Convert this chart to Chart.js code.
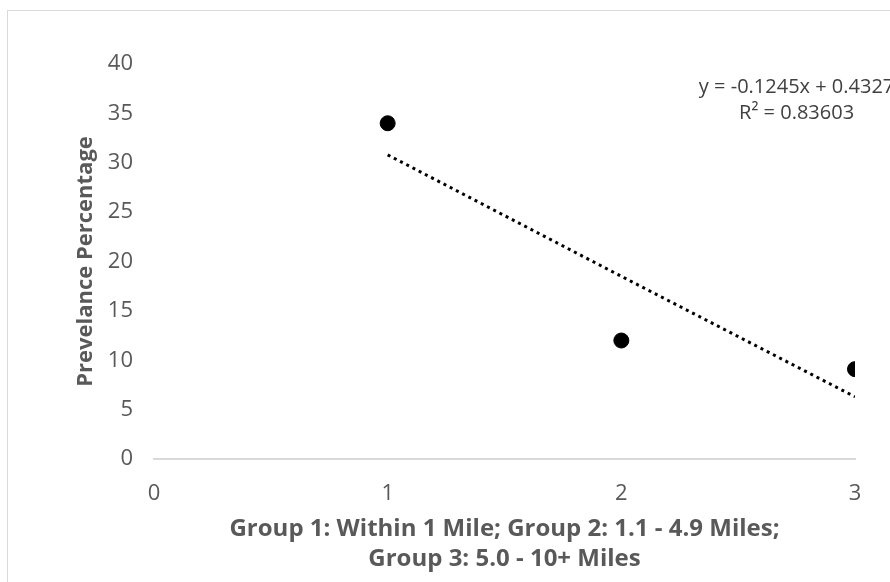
<!DOCTYPE html>
<html>
<head>
<meta charset="utf-8">
<script src="https://cdn.jsdelivr.net/npm/chart.js@4"></script>
<style>
  html, body { margin: 0; padding: 0; background: #fff; }
  canvas { display: block; }
</style>
</head>
<body>
<canvas id="chart" width="890" height="582"></canvas>
<script>
// ── Prevalence by distance group: scatter + linear trendline ──
const groups = [1, 2, 3];
const prevalence = [34, 12, 9.1];

// trendline (x = 1 … 3)
const trendX = [1, 2, 3];
const trendY = [30.8, 18.5, 6.3];

const xTicks = [0, 1, 2, 3];
const yTicks = [0, 5, 10, 15, 20, 25, 30, 35, 40];

const eqLines = ['y = -0.1245x + 0.4327', 'R² = 0.83603'];

const grey = '#595959';
const font = '"Open Sans", "DejaVu Sans", sans-serif';

// outer frame + trendline equation
const framePlugin = {
  id: 'frame',
  beforeDraw(chart) {
    const { ctx } = chart;
    ctx.save();
    ctx.strokeStyle = '#d9d9d9';
    ctx.lineWidth = 1;
    ctx.strokeRect(7.5, 10.5, 1000, 1000);
    ctx.restore();
  },
  afterDatasetsDraw(chart) {
    const { ctx, scales: { x, y } } = chart;
    const cx = x.getPixelForValue(2.75);
    ctx.save();
    ctx.font = '20px ' + font;
    ctx.fillStyle = '#404040';
    ctx.textAlign = 'center';
    ctx.textBaseline = 'middle';
    ctx.fillText(eqLines[0], cx, y.getPixelForValue(37.6));
    ctx.fillText(eqLines[1], cx, y.getPixelForValue(35.05));
    ctx.restore();
  }
};

new Chart(document.getElementById('chart'), {
  type: 'scatter',
  data: {
    datasets: [
      {
        label: 'Prevalence',
        data: groups.map((g, i) => ({ x: g, y: prevalence[i] })),
        backgroundColor: '#000',
        borderColor: '#000',
        pointRadius: 7.5,
        pointHoverRadius: 7.5
      },
      {
        label: 'Linear trend',
        type: 'line',
        data: trendX.map((g, i) => ({ x: g, y: trendY[i] })),
        borderColor: '#000',
        borderWidth: 3,
        borderDash: [3, 4],
        pointRadius: 0,
        fill: false
      }
    ]
  },
  options: {
    responsive: false,
    animation: false,
    layout: { padding: { left: 0, top: 64, right: 35, bottom: 0 } },
    plugins: { legend: { display: false }, tooltip: { enabled: false } },
    scales: {
      x: {
        type: 'linear',
        min: 0,
        max: 3,
        afterBuildTicks: s => { s.ticks = xTicks.map(v => ({ value: v })); },
        afterFit: s => { s.height = 123; },
        grid: { display: false },
        border: { display: true, color: '#d9d9d9', width: 2 },
        ticks: { color: grey, font: { size: 22, family: font }, padding: 14 },
        title: {
          display: true,
          text: ['Group 1: Within 1 Mile; Group 2: 1.1 - 4.9 Miles;', 'Group 3: 5.0 - 10+ Miles'],
          color: grey,
          font: { size: 24, weight: 'bold', family: font, lineHeight: 1.25 },
          padding: { top: 6, bottom: 8 }
        }
      },
      y: {
        min: 0,
        max: 40,
        afterBuildTicks: s => { s.ticks = yTicks.map(v => ({ value: v })); },
        afterFit: s => { s.width = 154; },
        grid: { display: false },
        border: { display: false },
        ticks: { color: grey, font: { size: 22, family: font }, padding: 13 },
        title: {
          display: true,
          text: 'Prevelance Percentage',
          color: grey,
          font: { size: 22, weight: 'bold', family: font },
          padding: { top: 73, bottom: 0 }
        }
      }
    }
  },
  plugins: [framePlugin]
});
</script>
</body>
</html>
